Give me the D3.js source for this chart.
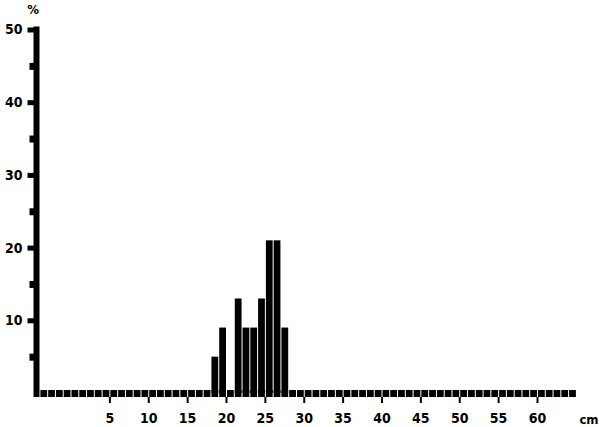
<!DOCTYPE html>
<html>
<script src="https://d3js.org/d3.v7.min.js"></script>
<head>
<title>Length distribution</title>
</head>
<style>
body {margin:0; background:white;}
svg text {font-family:"DejaVu Sans Condensed", "DejaVu Sans", sans-serif; font-weight:bold;}
</style>
<body>
<svg width="599" height="427"></svg>
<script>
// length classes (cm, left edge of each 1 cm class) and percentage in each
var binStart = d3.range(-4, 65);
var binValue = {18: 5, 19: 9, 20: 0, 21: 13, 22: 9, 23: 9, 24: 13, 25: 21, 26: 21, 27: 9};
var xTicks = [5, 10, 15, 20, 25, 30, 35, 40, 45, 50, 55, 60];
var yTicks = [10, 20, 30, 40, 50];
var yMinor = [5, 15, 25, 35, 45];

var data = binStart.map(function(s) { return {start: s, value: binValue[s] || 0}; });

var svg = d3.select("svg");
var x = d3.scaleLinear().domain([0, 60]).range([70.5, 537]);
var y = d3.scaleLinear().domain([0, 50]).range([393, 29.5]);

// baseline boxes, one per class
svg.append("g").selectAll("rect")
  .data(data)
  .enter()
  .append("rect")
  .attr("x", function(d) { return x(d.start) + 1; })
  .attr("width", function(d) { return x(d.start + 1) - x(d.start) - 1; })
  .attr("y", y(0) - 3)
  .attr("height", 7)
  .attr("fill", "black");

// bars
svg.append("g").selectAll("rect")
  .data(data.filter(function(d) { return d.value > 0; }))
  .enter()
  .append("rect")
  .attr("x", function(d) { return x(d.start) + 1; })
  .attr("width", function(d) { return x(d.start + 1) - x(d.start) - 1; })
  .attr("y", function(d) { return y(d.value); })
  .attr("height", function(d) { return y(0) - y(d.value); })
  .attr("fill", "black");

// y axis
var yAxis = svg.append("g")
  .attr("transform", "translate(36.5,0)")
  .call(d3.axisLeft(y).tickValues(yTicks).tickSize(9).tickSizeOuter(0).tickPadding(5));
yAxis.select(".domain").remove();
yAxis.selectAll(".tick line").attr("stroke-width", 5);
yAxis.selectAll(".tick text").style("font-size", "14px").attr("fill", "black");
svg.append("line")
  .attr("x1", 36.5).attr("x2", 36.5)
  .attr("y1", y(50) - 3).attr("y2", y(0) + 4)
  .attr("stroke", "black").attr("stroke-width", 6);

var yMinorAxis = svg.append("g")
  .attr("transform", "translate(36.5,0)")
  .call(d3.axisLeft(y).tickValues(yMinor).tickSize(7).tickFormat(""));
yMinorAxis.select(".domain").remove();
yMinorAxis.selectAll(".tick line").attr("stroke-width", 7);

svg.append("text")
  .attr("x", 33).attr("y", 14)
  .attr("text-anchor", "middle")
  .style("font-size", "13px")
  .text("%");

// x axis
var xAxis = svg.append("g")
  .attr("transform", "translate(0," + (y(0) + 4) + ")")
  .call(d3.axisBottom(x).tickValues(xTicks).tickSize(6).tickPadding(10));
xAxis.select(".domain").remove();
xAxis.selectAll(".tick line").attr("stroke-width", 2);
xAxis.selectAll(".tick text").style("font-size", "14px").attr("fill", "black");

svg.append("text")
  .attr("x", 589).attr("y", 424)
  .attr("text-anchor", "middle")
  .style("font-size", "13px")
  .text("cm");
</script>
</body>
</html>
